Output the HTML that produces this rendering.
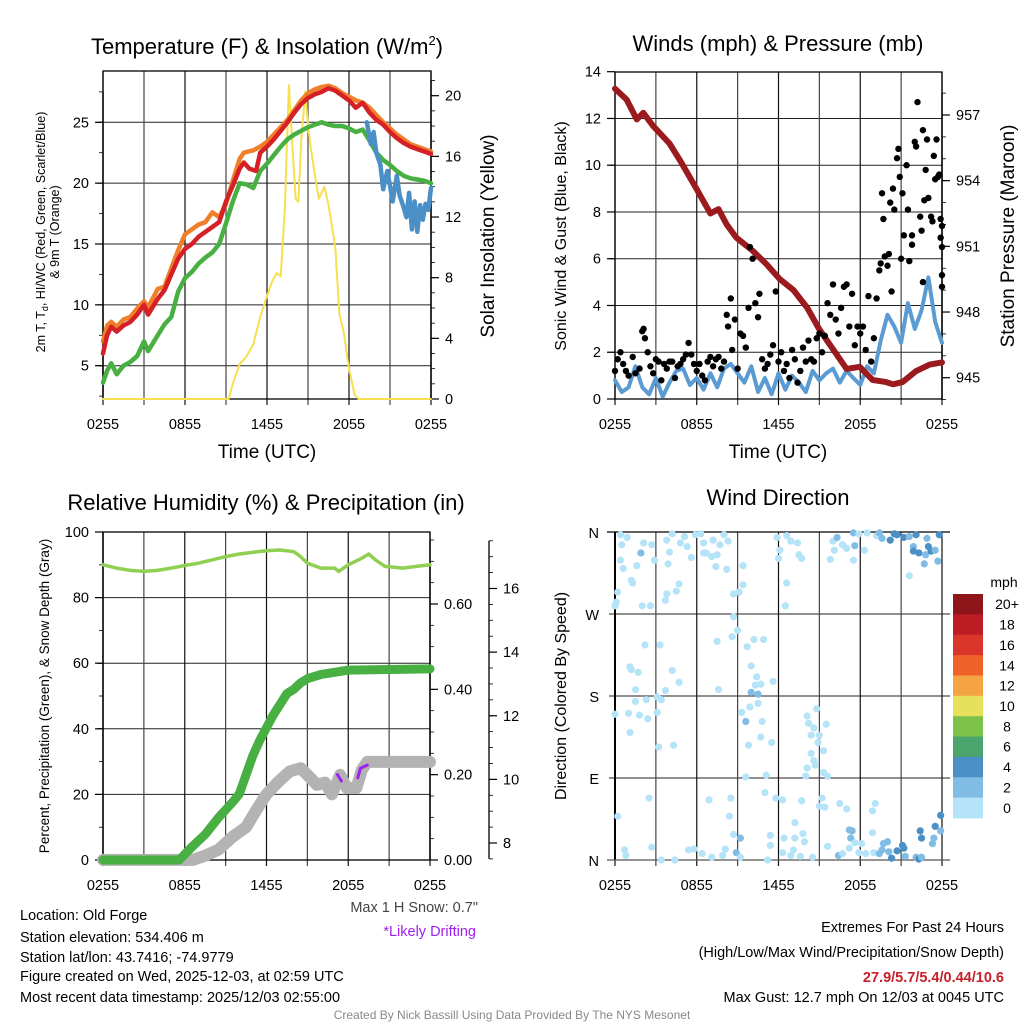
<!DOCTYPE html>
<html><head><meta charset="utf-8"><title>Old Forge Mesonet Meteogram</title>
<style>
html,body{margin:0;padding:0;background:#fff;}
svg{display:block;font-family:"Liberation Sans",Arial,sans-serif;}
</style></head>
<body>
<svg id="chart" width="1024" height="1024" viewBox="0 0 1024 1024" xmlns="http://www.w3.org/2000/svg">
<rect x="0" y="0" width="1024" height="1024" fill="#fff"/>
<g id="layer"></g>
<text x="267" y="54" font-size="22" text-anchor="middle">Temperature (F) &amp; Insolation (W/m<tspan font-size="13" dy="-9">2</tspan><tspan dy="9">)</tspan></text>
<text x="778" y="51" font-size="22" text-anchor="middle">Winds (mph) &amp; Pressure (mb)</text>
<text x="266" y="510" font-size="22" text-anchor="middle">Relative Humidity (%) &amp; Precipitation (in)</text>
<text x="778" y="505" font-size="22" text-anchor="middle">Wind Direction</text>

<text x="267" y="458" font-size="19" text-anchor="middle">Time (UTC)</text>
<text x="778" y="458" font-size="19" text-anchor="middle">Time (UTC)</text>

<text font-size="12.5" text-anchor="middle" transform="translate(45,232) rotate(-90)">2m T, T<tspan font-size="9" dy="3">d</tspan><tspan dy="-3">, HI/WC (Red, Green, Scarlet/Blue)</tspan></text>
<text font-size="12.5" text-anchor="middle" transform="translate(59,232) rotate(-90)">&amp; 9m T (Orange)</text>
<text font-size="19" text-anchor="middle" transform="translate(494,236) rotate(-90)">Solar Insolation (Yellow)</text>
<text font-size="16" text-anchor="middle" transform="translate(566,236) rotate(-90)">Sonic Wind &amp; Gust (Blue, Black)</text>
<text font-size="19" text-anchor="middle" transform="translate(1014,236) rotate(-90)">Station Pressure (Maroon)</text>
<text font-size="13.5" text-anchor="middle" transform="translate(49,696) rotate(-90)">Percent, Precipitation (Green), &amp; Snow Depth (Gray)</text>
<text font-size="16" text-anchor="middle" transform="translate(566,696) rotate(-90)">Direction (Colored By Speed)</text>

<text x="478" y="912" font-size="14.5" fill="#444" text-anchor="end">Max 1 H Snow: 0.7"</text>
<text x="476" y="936" font-size="14.5" fill="#a020f0" text-anchor="end">*Likely Drifting</text>

<g font-size="14.5">
<text x="20" y="920">Location: Old Forge</text>
<text x="20" y="942">Station elevation: 534.406 m</text>
<text x="20" y="962">Station lat/lon: 43.7416; -74.9779</text>
<text x="20" y="981">Figure created on Wed, 2025-12-03, at 02:59 UTC</text>
<text x="20" y="1002">Most recent data timestamp: 2025/12/03 02:55:00</text>
</g>
<g font-size="14.5" text-anchor="end">
<text x="1004" y="932">Extremes For Past 24 Hours</text>
<text x="1004" y="957">(High/Low/Max Wind/Precipitation/Snow Depth)</text>
<text x="1004" y="982" fill="#c8202a" font-weight="bold">27.9/5.7/5.4/0.44/10.6</text>
<text x="1004" y="1002">Max Gust: 12.7 mph On 12/03 at 0045 UTC</text>
</g>
<text x="512" y="1019" font-size="12" fill="#888" text-anchor="middle">Created By Nick Bassill Using Data Provided By The NYS Mesonet</text>
<g><text x="1004" y="587" font-size="14" text-anchor="middle">mph</text></g>
</svg>
<script>
// ===== DATA =====
const timeTickLabels = ["0255","0855","1455","2055","0255"];
// Temperature panel (hours since 0255, value)
const tempRed = [[0,6],[0.3,7.5],[0.6,8.2],[1,7.8],[1.5,8.3],[2,8.6],[2.5,9.2],[3,10],[3.3,9.2],[4,10.5],[4.5,11.2],[5,12.5],[5.5,13.8],[6,14.6],[6.5,15],[7,15.6],[7.5,16],[8,16.4],[8.5,16.8],[9,18.5],[9.5,19.8],[10,21.2],[10.3,21.7],[10.7,21.2],[11.2,21],[11.5,22.5],[12,23],[12.5,23.6],[13,24.3],[13.5,25],[14,25.8],[14.5,26.5],[15,27],[15.5,27.3],[16,27.5],[16.5,27.8],[17,27.6],[17.5,27.2],[18,26.8],[18.5,26.2],[19,26.6],[19.5,25.8],[20,25.2],[20.5,24.8],[21,24.2],[21.5,23.7],[22,23.3],[22.5,23],[23,22.8],[23.5,22.6],[24,22.4]];
const tempOrange = [[0,7],[0.3,8.3],[0.6,8.6],[1,8.2],[1.5,8.8],[2,9],[2.5,9.7],[3,10.3],[3.3,9.8],[4,11.3],[4.5,11.5],[5,13],[5.5,14.5],[6,15.8],[6.5,16.2],[7,16.6],[7.5,16.8],[8,17.6],[8.5,17.2],[9,18.3],[9.5,20.2],[10,22],[10.3,22.5],[11,22.7],[11.5,23],[12,23.4],[12.5,24],[13,24.6],[13.5,25.2],[14,26],[14.5,26.8],[15,27.4],[15.5,27.7],[16,27.9],[16.5,28],[17,27.8],[17.5,27.4],[18,27.1],[18.5,26.8],[19,26.6],[19.5,26.2],[20,25.6],[20.5,25],[21,24.5],[21.5,24],[22,23.6],[22.5,23.2],[23,23],[23.5,22.8],[24,22.6]];
const tempGreen = [[0,3.6],[0.3,4.6],[0.6,5.2],[1,4.3],[1.5,5],[2,5.3],[2.5,5.8],[3,7],[3.3,6.2],[4,7.5],[4.5,8.4],[5,9],[5.5,11.1],[6,12.2],[6.5,12.7],[7,13.4],[7.5,13.9],[8,14.3],[8.5,15],[9,16.7],[9.5,18.5],[10,20],[10.5,19.9],[11,19.6],[11.5,21],[12,21.6],[12.5,22.3],[13,23],[13.5,23.6],[14,24],[14.5,24.3],[15,24.6],[15.5,24.8],[16,25],[16.5,24.8],[17,24.7],[17.5,24.7],[18,24.5],[18.5,24.2],[19,24.4],[19.5,23.5],[20,22.5],[20.5,21.9],[21,21.5],[21.5,21],[22,20.6],[22.5,20.4],[23,20.3],[23.5,20.2],[24,20]];
const tempBlue = [[19.3,25],[19.6,23.2],[19.8,24.2],[20,22.5],[20.3,21.5],[20.5,19.5],[20.8,21],[21,19.8],[21.2,18.5],[21.5,20.6],[21.7,19],[22,18],[22.2,17.2],[22.4,19.2],[22.6,16.2],[22.8,18.5],[23,16],[23.2,18.2],[23.4,17],[23.6,18.3],[23.8,17.8],[24,19.6]];
const insolation = [[0,0],[9.2,0],[9.5,1],[10,2.3],[10.5,2.8],[11,3.6],[11.5,5.4],[12,6.8],[12.4,7.8],[12.7,8.3],[13,8.1],[13.3,12.5],[13.6,20.7],[13.9,16],[14.1,13.2],[14.3,13],[14.5,17],[14.8,20.3],[15,18],[15.2,16.6],[15.5,14.8],[15.8,13.2],[16.2,14],[16.5,12.8],[17,10],[17.3,5.6],[17.6,4.5],[18,2],[18.4,0.3],[18.7,0],[24,0]];
// Winds panel
const windBlueMph = [0.8,0.3,0.5,1.4,0.5,0.2,0.9,0.1,0.7,1.2,1.3,0.6,0.9,0.4,1.1,0.5,1.3,1.5,1.1,0.7,1.4,0.3,0.9,0.2,1.1,0.4,1.0,0.7,0.3,1.2,0.8,1.1,1.3,0.7,1.2,0.9,0.6,1.4,1.1,2.5,3.6,3.1,2.4,4.1,3.0,3.8,5.2,3.3,2.4];
const windBlueStep = 0.5;
const pressureMb = [[0,958.2],[0.86,957.7],[1.6,956.8],[2.08,957.1],[2.8,956.5],[4.0,955.7],[4.8,954.9],[6.0,953.6],[7.0,952.5],[7.6,952.7],[8.2,952.0],[8.9,951.4],[10.1,950.8],[11.1,950.2],[12.1,949.5],[13.1,949.0],[14.1,948.2],[15.0,947.2],[16.0,946.3],[17.0,945.4],[17.96,945.5],[18.9,944.9],[19.9,944.8],[20.4,944.7],[21.1,944.8],[22.1,945.3],[23.1,945.6],[24,945.7]];
const gustObs = [[0,1.2],[0.2,1.7],[0.4,2],[0.6,1.5],[0.8,1.2],[1,1],[1.3,1.8],[1.5,1.1],[1.8,1.3],[2,2.9],[2.1,3],[2.2,2.6],[2.4,2],[2.6,1.4],[2.8,1.1],[3,1.7],[3.2,1.6],[3.4,0.8],[3.6,1.5],[3.8,1.3],[4,1.6],[4.2,1.6],[4.4,0.9],[4.6,1.4],[4.8,1.5],[5,1.7],[5.2,1.9],[5.4,2.4],[5.6,1.9],[5.8,1.5],[6,1.2],[6.2,1.5],[6.4,1.0],[6.6,0.8],[6.8,1.6],[7,1.8],[7.2,1.4],[7.4,1.7],[7.6,1.8],[7.8,1.3],[8,1.6],[8.2,3.6],[8.3,3.1],[8.5,4.3],[8.6,2.1],[8.8,3.4],[9,1.3],[9.2,2.8],[9.4,2.7],[9.6,2.2],[9.8,3.9],[9.9,6.5],[10.1,6],[10.3,4.1],[10.5,3.5],[10.6,4.5],[10.8,1.7],[11,1.3],[11.2,1.5],[11.4,1.9],[11.6,2.3],[11.8,4.6],[12,1.6],[12.2,2],[12.4,1.2],[12.6,1.5],[12.8,0.9],[13,2.1],[13.2,1.7],[13.4,0.7],[13.6,1.2],[13.8,2.2],[14,1.6],[14.2,2.5],[14.4,1.7],[14.6,1.6],[14.8,2.6],[15,2.8],[15.2,2.0],[15.4,2.7],[15.6,4.1],[15.8,3.6],[16,4.9],[16.2,3.4],[16.4,2.8],[16.6,3.9],[16.8,4.8],[17,4.9],[17.2,3.1],[17.4,4.5],[17.6,2.3],[17.8,3.1],[18,2.8],[18.2,3.1],[18.4,2.1],[18.6,4.4],[18.8,1.6],[19,2.6],[19.2,4.3],[19.4,5.5],[19.5,5.8],[19.6,8.8],[19.7,7.7],[19.8,6.1],[20,5.7],[20.1,6.2],[20.2,8.4],[20.4,9],[20.5,8.1],[20.7,10.3],[20.8,10.7],[20.9,9.5],[21,6],[21.1,8.8],[21.2,7],[21.4,10],[21.5,8.1],[21.6,5.9],[21.8,6.6],[22,11],[22.1,10.8],[22.2,12.7],[22.4,7.8],[22.5,7.2],[22.6,11.5],[22.7,8.5],[22.8,9.8],[22.9,11.1],[23.0,8.6],[23.2,7.8],[23.3,7.6],[23.5,9.4],[23.6,11.1],[23.8,9.6],[23.9,7.7],[24,7.4],[24,5.3],[24,6.5],[23.7,9.5],[23.4,10.4],[22.6,5.0],[20.3,4.6],[21.8,7.0],[23.9,6.9],[24,4.8]];
// RH panel
const rhPct = [[0,90],[0.5,89.5],[1,89],[2,88.3],[3,88],[4,88.3],[5,89],[6,89.8],[7,90.5],[8,91.5],[9,92.5],[10,93.3],[11,93.8],[12,94.3],[13,94.5],[14,94],[14.5,92.5],[15,90.5],[16,89],[17,89],[17.3,88],[18,90],[19,92],[19.5,93.3],[20,91.5],[20.7,89.5],[22,89],[23,89.5],[24,90]];
const precipIn = [[0,0],[5.6,0],[6.5,0.03],[7.5,0.06],[8.5,0.1],[9.5,0.135],[10,0.155],[10.5,0.2],[11,0.245],[11.5,0.28],[12,0.31],[12.5,0.34],[13,0.365],[13.5,0.39],[14,0.4],[14.5,0.415],[15,0.425],[16,0.435],[17,0.44],[18,0.445],[24,0.448]];
const snowDepthIn = [[0,7.47],[6.6,7.47],[7.5,7.6],[8.5,7.8],[9.5,8.19],[10.5,8.5],[11.2,9.0],[12,9.53],[12.8,9.9],[13.7,10.25],[14.5,10.35],[15.1,10.1],[15.7,9.83],[16.3,9.9],[16.8,9.53],[17.4,10.14],[17.9,9.73],[18.6,9.73],[19.0,10.3],[19.4,10.55],[24,10.55]];
const driftIn = [[[17.2,10.15],[17.5,9.95]],[[18.7,10.05],[18.9,10.35],[19.4,10.45]]];
// Direction panel: [hour, degrees, mph]
const dirObs = [[0.4,357,1],[0.9,354,1],[0.5,346,1],[2.1,348,1],[2.7,346,1],[1.9,337,2.5],[0.4,329,1],[0.6,320,1],[1.6,323,1],[2.9,329,1],[1.2,307,1],[1.3,304,1],[0.2,294,1],[0.1,283,1],[0,279,1],[2.0,279,1],[2.6,279,1],[3.8,292,1],[3.7,285,1],[4.5,295,1],[4.7,303,1],[3.9,325,1],[4.0,338,1],[3.8,351,1],[4.2,358,1],[4.8,348,1],[5.1,355,1],[5.3,344,1],[5.6,332,1],[5.9,357,1],[6.3,358,1],[6.5,348,1],[6.7,337,1],[7.1,333,1],[7.5,335,1],[7.2,351,1],[7.7,346,1],[8.0,357,1],[8.3,350,1],[7.4,322,1],[8.2,319,1],[6.5,337,1],[9.4,323,1],[8.7,292,1],[9.1,294,1],[9.4,302,1],[8.7,267,1],[9.0,252,1],[8.6,245,1],[7.5,240,1],[11.9,354,1],[12.1,340,1],[12.0,331,1],[12.6,356,1],[12.9,350,1],[13.4,348,1],[13.5,335,1],[13.7,331,1],[12.6,304,1],[12.5,279,1],[15.8,330,1],[16.0,350,1],[16.3,354,2.5],[16.1,340,1],[16.7,346,1],[17.0,342,1],[17.5,329,1],[17.5,359,2.5],[17.6,345,2.5],[17.9,358,1],[18.3,340,1],[18.5,359,1],[19.2,356,1],[19.4,359,2.5],[19.6,353,2.5],[20.2,351,4],[20.5,358,4],[20.7,357,4],[21.2,354,4],[21.6,355,2.5],[22.1,357,4],[21.9,344,2.5],[21.9,339,4],[22.3,337,4],[22.8,335,2.5],[22.9,353,2.5],[23.0,344,4],[23.2,339,4],[23.5,340,2.5],[23.7,328,2.5],[23.8,357,4],[21.6,312,1],[22.7,325,2.5],[2.2,236,1],[3.3,236,1],[1.1,212,1],[1.7,206,1],[1.2,209,1],[1.5,187,1],[1.5,174,1],[2.3,176,1],[3.1,179,1],[3.4,176,1],[3.7,186,1],[4.2,208,1],[4.7,195,1],[0.0,160,1],[1.0,161,1],[1.8,159,1],[2.4,155,1],[3.1,162,1],[1.1,140,1],[3.2,124,1],[4.3,126,1],[9.7,234,1],[10.2,242,1],[10.9,242,1],[10.0,213,1],[10.4,201,1],[10.3,192,1],[10.7,193,1],[10.0,184,2.5],[10.5,182,2.5],[10.5,172,1],[9.9,168,1],[9.3,162,1],[9.6,152,2.5],[10.8,152,1],[10.7,135,1],[9.8,126,1],[11.5,129,1],[11.6,196,1],[7.6,187,1],[14.1,158,1],[14.8,166,1],[14.2,150,1],[14.6,145,1],[14.4,137,1],[15.0,137,1],[14.9,129,1],[15.5,149,1],[15.3,120,1],[14.4,117,1],[14.6,109,1],[14.7,104,1],[14.1,101,1],[14.0,92,1],[15.3,96,1],[15.6,92,1],[11.1,93,1],[9.6,91,1],[2.5,68,1],[0.2,48,1],[6.9,66,1],[8.5,68,1],[8.4,48,1],[8.7,28,1],[9.2,24,2.5],[8.9,8,2.5],[11.0,74,1],[11.8,68,1],[12.3,66,1],[13.7,65,1],[15.2,68,1],[15.0,59,1],[15.4,58,1],[16.5,62,1],[17.0,56,1],[13.2,41,1],[11.4,27,1],[12.4,24,1],[13.2,24,1],[13.8,29,1],[13.9,20,1],[11.4,16,1],[12.3,8,1],[13.1,11,1],[12.9,5,1],[13.6,4,1],[14.5,3,1],[11.2,0,1],[9.2,3,1],[8.1,12,1],[7.9,5,1],[6.4,7,1],[7.1,3,1],[5.4,11,1],[5.8,12,1],[2.7,14,1],[0.7,11,1],[0.8,5,1],[3.4,0,1],[4.4,0,1],[15.6,15,1],[16.4,5,2.5],[16.7,7,1],[17.2,33,2.5],[17.4,32,2.5],[17.3,24,2.5],[17.6,19,1],[17.2,13,1],[18.1,18,1],[18.9,54,1],[19.1,62,1],[18.9,30,1],[17.9,8,1],[18.4,7,1],[19.0,8,1],[19.4,7,2.5],[19.7,18,2.5],[20.0,20,2.5],[19.6,11,2.5],[20.1,9,2.5],[20.7,10,4],[21.1,16,4],[21.2,13,4],[20.3,2,4],[21.3,4,2.5],[22.1,3,2.5],[22.3,1,4],[22.5,3,2.5],[22.4,32,4],[22.5,24,4],[23.3,18,2.5],[23.4,24,2.5],[23.5,37,4],[23.9,32,2.5],[23.9,49,4]];
const dirLabels = ["N","W","S","E","N"];
const speedBinLabels = ["20+","18","16","14","12","10","8","6","4","2","0"];
const speedBinColors = ["#8e161a","#bd1e24","#d9352a","#ee6128","#f5a443","#e6e05a","#7dc24b","#4aa56c","#4a8fc6","#80bce3","#b5e3f8"];

// ===== RENDERING =====
const NS = "http://www.w3.org/2000/svg";
const layer = document.getElementById("layer");
function mk(tag, attrs, parent) {
  const e = document.createElementNS(NS, tag);
  for (const k in attrs) e.setAttribute(k, attrs[k]);
  (parent || layer).appendChild(e);
  return e;
}
function lin(d0, d1, r0, r1) { return v => r0 + (v - d0) * (r1 - r0) / (d1 - d0); }

function frame(g, x0, x1, y0, y1) {
  for (let i = 0; i <= 8; i++) {
    const x = x0 + (x1 - x0) * i / 8;
    mk("line", {x1: x, x2: x, y1: y0, y2: y1 + 6, stroke: i % 2 ? "#444" : "#111", "stroke-width": 1.2}, g);
  }
  const tickX = [0, 2, 4, 6, 8];
  timeTickLabels.forEach((t, i) => {
    const x = x0 + (x1 - x0) * tickX[i] / 8;
    const tl = mk("text", {x: x, y: y1 + 30, "font-size": 14.5, "text-anchor": "middle"}, g);
    
    
    tl.textContent = t;
  });
}
function polyline(g, pts, sx, sy, color, w, name) {
  const p = mk("polyline", {points: pts.map(p => sx(p[0]).toFixed(1) + "," + sy(p[1]).toFixed(1)).join(" "), fill: "none", stroke: color, "stroke-width": w, "stroke-linejoin": "round", "stroke-linecap": "round"}, g);
  
  
  return p;
}
function yAxis(g, x, sy, ticks, fmt, side, minor) {
  const dir = side === "left" ? -1 : 1;
  if (minor.length) mk("line", {x1: x, x2: x, y1: sy(minor[0]), y2: sy(minor[minor.length - 1]), stroke: "#000", "stroke-width": 1.3}, g);
  minor.forEach(v => mk("line", {x1: x, x2: x + dir * 4, y1: sy(v), y2: sy(v), stroke: "#000", "stroke-width": 0.8}, g));
  ticks.forEach(v => {
    mk("line", {x1: x, x2: x + dir * 8, y1: sy(v), y2: sy(v), stroke: "#000", "stroke-width": 1.2}, g);
    const t = mk("text", {x: x + dir * 14, y: sy(v) + 5, "font-size": 14.5, "text-anchor": side === "left" ? "end" : "start"}, g);
    
    
    t.textContent = fmt(v);
  });
}
function range(a, b, s) { const r = []; for (let v = a; v <= b + 1e-9; v += s) r.push(+v.toFixed(4)); return r; }

// ---- Panel 1: temperature ----
(function () {
  const g = mk("g", {});
  
  
  const X0 = 103, X1 = 431, Y0 = 71, Y1 = 399;
  const sx = lin(0, 24, X0, X1), sy = lin(5, 25, 365.7, 122.3), si = lin(0, 20, 399, 95.7);
  [5, 10, 15, 20, 25].forEach(v => mk("line", {x1: X0 - 6, x2: X1, y1: sy(v), y2: sy(v), stroke: "#222", "stroke-width": 1}, g));
  frame(g, X0, X1, Y0, Y1);
  mk("rect", {x: X0, y: Y0, width: X1 - X0, height: Y1 - Y0, fill: "none", stroke: "#000", "stroke-width": 1.3}, g);
  yAxis(g, X0, sy, [5, 10, 15, 20, 25], v => v, "left", range(2.5, 29.5, 2.5).filter(v => sy(v) <= Y1 && sy(v) >= Y0));
  yAxis(g, X1, si, [0, 4, 8, 12, 16, 20], v => v, "right", range(0, 21, 1));
  polyline(g, insolation, sx, si, "#f5e04d", 2, "insolation-line");
  polyline(g, tempOrange, sx, sy, "#f07f2a", 4.5, "temp-9m-line");
  polyline(g, tempGreen, sx, sy, "#48b043", 4.5, "dewpoint-line");
  polyline(g, tempRed, sx, sy, "#d42026", 4.5, "temp-2m-line");
  polyline(g, tempBlue, sx, sy, "#4a8fc6", 4.5, "windchill-line");
})();

// ---- Panel 2: winds ----
(function () {
  const g = mk("g", {});
  
  
  const X0 = 615, X1 = 942, Y0 = 72, Y1 = 399;
  const sx = lin(0, 24, X0, X1), sy = lin(0, 14, 399, 71.7), sp = lin(945, 957, 377.7, 115);
  range(2, 12, 2).forEach(v => mk("line", {x1: X0 - 6, x2: X1, y1: sy(v), y2: sy(v), stroke: "#222", "stroke-width": 1}, g));
  frame(g, X0, X1, Y0, Y1);
  mk("rect", {x: X0, y: Y0, width: X1 - X0, height: Y1 - Y0, fill: "none", stroke: "#000", "stroke-width": 1.3}, g);
  yAxis(g, X0, sy, range(0, 14, 2), v => v, "left", []);
  yAxis(g, X1, sp, [945, 948, 951, 954, 957], v => v, "right", range(944, 958, 1));
  const blue = windBlueMph.map((v, i) => [i * windBlueStep, v]);
  polyline(g, blue, sx, sy, "#5b9bd3", 4, "sonic-wind-line");
  polyline(g, pressureMb, sx, sp, "#9a1a1e", 6, "pressure-line");
  gustObs.forEach(p => {
    const c = mk("circle", {cx: sx(p[0]), cy: sy(p[1]), r: 3.2, fill: "#000"}, g);
    
    
  });
})();

// ---- Panel 3: RH / precip ----
(function () {
  const g = mk("g", {});
  
  
  const X0 = 103, X1 = 430, Y0 = 532, Y1 = 860;
  const sx = lin(0, 24, X0, X1), sy = lin(0, 100, 860, 532), spr = lin(0, 0.6, 860, 604), ssn = lin(8, 16, 843, 588.5);
  range(20, 80, 20).forEach(v => mk("line", {x1: X0 - 6, x2: X1, y1: sy(v), y2: sy(v), stroke: "#222", "stroke-width": 1}, g));
  frame(g, X0, X1, Y0, Y1);
  mk("rect", {x: X0, y: Y0, width: X1 - X0, height: Y1 - Y0, fill: "none", stroke: "#000", "stroke-width": 1.3}, g);
  yAxis(g, X0, sy, range(0, 100, 20), v => v, "left", range(0, 100, 10));
  yAxis(g, X1, spr, [0, 0.2, 0.4, 0.6], v => v.toFixed(2), "right", range(0, 0.75, 0.05));
  yAxis(g, 489, ssn, [8, 10, 12, 14, 16], v => v, "right", range(7.5, 17.5, 0.5));
  polyline(g, snowDepthIn, sx, ssn, "#b3b3b3", 12, "snow-depth-line");
  polyline(g, precipIn, sx, spr, "#48b043", 9, "precipitation-line");
  driftIn.forEach(seg => polyline(g, seg, sx, ssn, "#a020f0", 3, "likely-drifting-segment"));
  polyline(g, rhPct, sx, sy, "#8fcf52", 3.5, "relative-humidity-line");
})();

// ---- Panel 4: direction ----
(function () {
  const g = mk("g", {});
  
  
  const X0 = 615, X1 = 942, Y0 = 532, Y1 = 860;
  const sx = lin(0, 24, X0, X1), sy = lin(0, 360, 860, 532);
  [90, 180, 270].forEach(v => mk("line", {x1: X0 - 6, x2: X1 + 8, y1: sy(v), y2: sy(v), stroke: "#222", "stroke-width": 1}, g));
  frame(g, X0, X1, Y0, Y1);
  mk("line", {x1: X0, x2: X0, y1: Y0, y2: Y1, stroke: "#000", "stroke-width": 2}, g);
  mk("line", {x1: X0 - 8, x2: X1 + 8, y1: Y0, y2: Y0, stroke: "#000", "stroke-width": 1.3}, g);
  mk("line", {x1: X0 - 8, x2: X1 + 8, y1: Y1, y2: Y1, stroke: "#555", "stroke-width": 1.3}, g);
  dirLabels.forEach((l, i) => {
    const t = mk("text", {x: X0 - 16, y: sy(360 - i * 90) + 6, "font-size": 14.5, "text-anchor": "end"}, g);
    
    
    t.textContent = l;
  });
  function colorFor(s) {
    const idx = Math.min(10, Math.floor(s / 2));
    return speedBinColors[10 - idx];
  }
  dirObs.forEach(p => {
    const c = mk("circle", {cx: sx(p[0]), cy: sy(p[1]), r: 3.6, fill: colorFor(p[2])}, g);
    
    
  });
  const cb = mk("g", {}, g);
  
  
  const cTop = 594, cH = 224 / 11;
  speedBinLabels.forEach((lab, i) => {
    mk("rect", {x: 953, y: cTop + i * cH, width: 30, height: cH + 0.5, fill: speedBinColors[i]}, cb);
    const t = mk("text", {x: 1007, y: cTop + i * cH + cH / 2 + 5, "font-size": 14, "text-anchor": "middle"}, cb);
    
    
    t.textContent = lab;
  });
})();
</script>
</body></html>
